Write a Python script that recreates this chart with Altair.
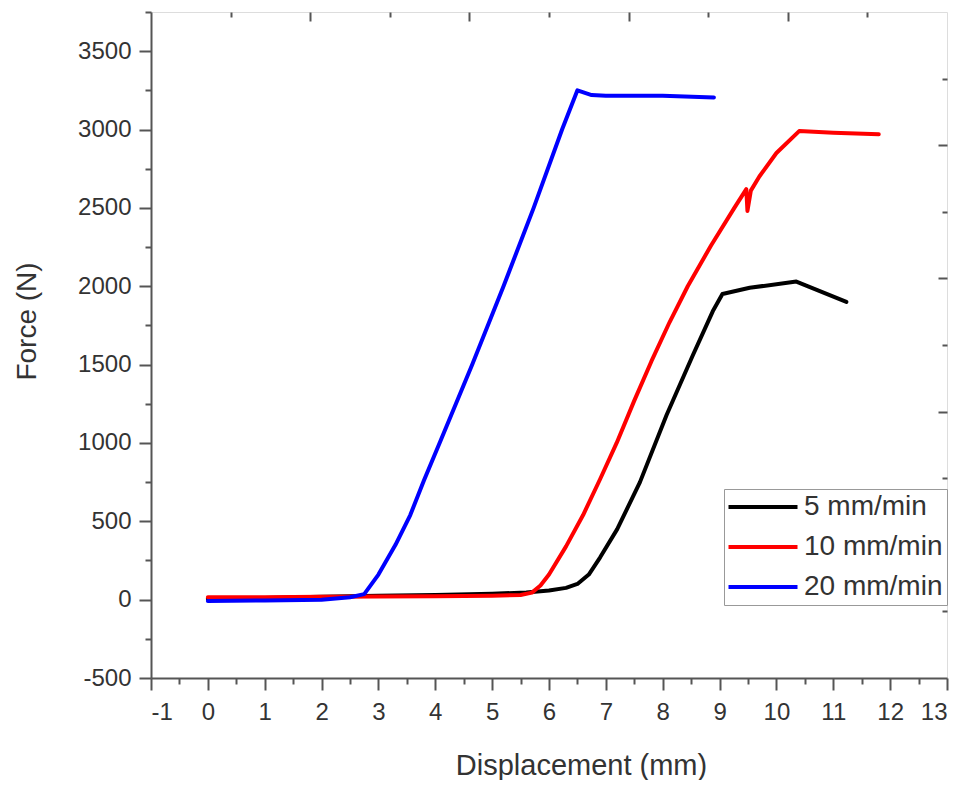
import altair as alt
import pandas as pd

# ---- data ----
series_names = ["5 mm/min", "10 mm/min", "20 mm/min"]
series_colors = ["#000000", "#FF0000", "#0000FF"]

x5 = [0, 1, 2, 3, 4, 5, 5.6, 6.0, 6.3, 6.5, 6.7, 6.9, 7.2, 7.6, 8.07, 8.53, 8.88, 9.05, 9.53, 10.35, 11.23]
f5 = [5, 10, 18, 25, 30, 38, 45, 58, 75, 100, 160, 270, 450, 750, 1180, 1560, 1840, 1950, 1990, 2030, 1900]

x10 = [0, 1, 2, 3, 4, 5, 5.5, 5.7, 5.85, 6.0, 6.3, 6.6, 6.9, 7.19, 7.5, 7.8, 8.12, 8.44, 8.85, 9.26, 9.47, 9.49, 9.55, 9.7, 10.0, 10.4, 11.0, 11.8]
f10 = [15, 15, 18, 20, 22, 25, 30, 45, 90, 160, 340, 540, 770, 1000, 1270, 1520, 1770, 2000, 2260, 2500, 2620, 2480, 2610, 2700, 2850, 2990, 2980, 2970]

x20 = [0, 1, 2, 2.5, 2.75, 3.0, 3.3, 3.56, 3.8, 4.1, 4.65, 5.2, 5.73, 6.23, 6.5, 6.75, 7.0, 8.0, 8.9]
f20 = [-8, -5, 0, 15, 35, 160, 350, 540, 760, 1020, 1500, 2000, 2500, 3000, 3250, 3220, 3215, 3215, 3205]

x_domain = [-1, 13]
y_domain = [-500, 3750]
x_ticks = [i * 0.5 for i in range(-2, 27)]
y_ticks = list(range(-500, 3751, 250))
top_long = [1.8, 4.6, 7.4, 10.2]
top_short = [0.4, 3.2, 6.0, 8.8, 11.6]
right_long = [350, 1200, 2050, 2900]
right_short = [-75, 775, 1625, 2475, 3325]

rows = []
for name, xs, fs in zip(series_names, [x5, x10, x20], [f5, f10, f20]):
    for i, (a, b) in enumerate(zip(xs, fs)):
        rows.append({"series": name, "x": a, "F": b, "order": i})
df = pd.DataFrame(rows)

FONT = "Liberation Sans"
TXT = "#333333"
AX = "#555555"

xscale = alt.Scale(domain=x_domain, nice=False, zero=False)
yscale = alt.Scale(domain=y_domain, nice=False, zero=False)

x_main = alt.X("x:Q", scale=xscale, axis=alt.Axis(
    orient="bottom", values=x_ticks, title="Displacement (mm)",
    labelExpr="datum.value % 1 === 0 ? '' + datum.value : ''",
    tickSize={"condition": {"test": "datum.value % 1 !== 0", "value": 6}, "value": 12},
    tickColor=AX, tickWidth=2, domainColor=AX, domainWidth=2,
    labelFont=FONT, labelFontSize=24, labelColor=TXT, labelPadding=10,
    titleFont=FONT, titleFontSize=29, titleColor=TXT, titleFontWeight="normal",
    titlePadding=27, titleX=430, grid=False))
y_main = alt.Y("F:Q", scale=yscale, axis=alt.Axis(
    orient="left", values=y_ticks, title="Force (N)",
    labelExpr="datum.value % 500 === 0 ? '' + datum.value : ''",
    tickSize={"condition": {"test": "datum.value % 500 !== 0", "value": 6}, "value": 12},
    tickColor=AX, tickWidth=2, domainColor=AX, domainWidth=2,
    labelFont=FONT, labelFontSize=24, labelColor=TXT, labelPadding=8,
    titleFont=FONT, titleFontSize=28, titleColor=TXT, titleFontWeight="normal",
    titlePadding=36, titleY=309, grid=False))

color = alt.Color("series:N", scale=alt.Scale(domain=series_names, range=series_colors),
                  legend=alt.Legend(
                      orient="none", legendX=573, legendY=477, title=None,
                      symbolType="M-3,0H3", symbolSize=529, symbolStrokeWidth=4,
                      symbolOffset=21,
                      labelFont=FONT, labelFontSize=28, labelColor=TXT, labelOffset=27,
                      strokeColor="#999999", fillColor="white", padding=4, rowPadding=12))

lines = alt.Chart(df).mark_line(strokeWidth=4, strokeJoin="round", strokeCap="round").encode(
    x=x_main, y=y_main, color=color, order="order:Q", detail="series:N")

def mirror(xv, yv, size):
    return alt.Chart(df).mark_line(strokeOpacity=0).encode(
        x=alt.X("x:Q", scale=xscale, axis=alt.Axis(
            orient="top", values=xv, labels=False, title=None, domain=False,
            ticks=True, tickSize=size, offset=-size, tickColor=AX, tickWidth=2, grid=False)),
        y=alt.Y("F:Q", scale=yscale, axis=alt.Axis(
            orient="right", values=yv, labels=False, title=None, domain=False,
            ticks=True, tickSize=size, offset=-size, tickColor=AX, tickWidth=2, grid=False)),
        detail="series:N")

chart = alt.layer(
    lines, mirror(top_long, right_long, 9), mirror(top_short, right_short, 5)
).resolve_axis(x="independent", y="independent").properties(
    width=796, height=666,
    padding={"left": 5, "top": 3, "right": 5, "bottom": 0},
).configure_view(stroke=AX, strokeWidth=2).configure(background="white")

chart.save("out.html", embed_options={"renderer": "svg", "actions": False})
